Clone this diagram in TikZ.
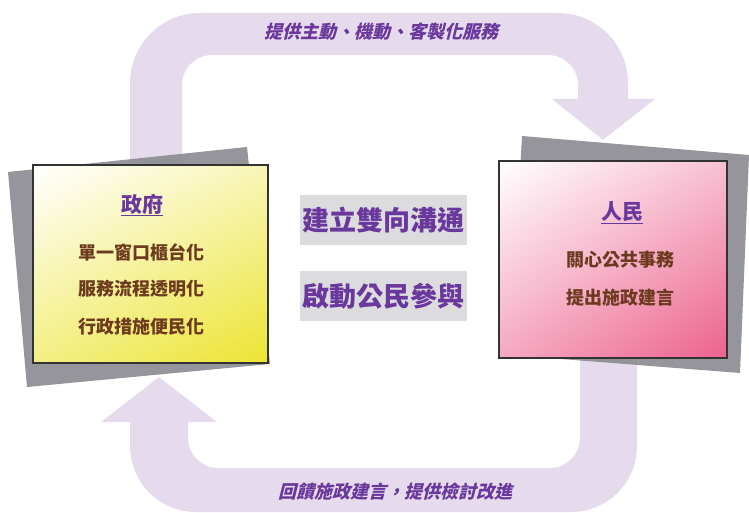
\documentclass[tikz,border=0pt]{standalone}
\usepackage{fontspec}
\usetikzlibrary{shadings}
\newfontfamily\tc{Noto Sans CJK TC}
\newfontfamily\tcslant{Noto Sans CJK TC}[FakeSlant=0.25]

\definecolor{band}{RGB}{230,219,236}
\definecolor{shadowgray}{RGB}{140,140,146}
\definecolor{titlepurple}{RGB}{106,56,156}
\definecolor{textbrown}{RGB}{108,58,30}
\definecolor{midgray}{RGB}{220,220,223}
\definecolor{govyellow}{RGB}{236,228,50}
\definecolor{pplpink}{RGB}{236,98,142}

\begin{document}
\begin{tikzpicture}[x=1pt, y=-1pt,
    card/.style={rectangle, draw=black!80, line width=1.2pt, shade},
    cardtitle/.style={text=titlepurple, font=\tc\bfseries\fontsize{21}{21}\selectfont},
    carditem/.style={text=textbrown, font=\tc\bfseries\fontsize{18}{18}\selectfont},
    midbox/.style={fill=midgray, text=titlepurple, inner sep=0pt,
        minimum width=167pt, minimum height=50pt,
        font=\tc\bfseries\fontsize{27}{27}\selectfont},
    arrowtext/.style={text=titlepurple, font=\tcslant\bfseries\fontsize{18}{18}\selectfont}]

\useasboundingbox (0,0) rectangle (749,513);

% the two big arrows
\fill[band] (130,250) [rounded corners=70pt] -- (130,13) -- (628,13)
    [sharp corners] -- (628,99) -- (655,99) -- (603,140) -- (552,99) -- (578,99)
    [rounded corners=30pt] -- (578,55) -- (182,55)
    [sharp corners] -- (182,250) -- cycle;

\fill[band] (580,300) [rounded corners=30pt] -- (580,468) -- (188,468)
    [sharp corners] -- (188,422) -- (217,422) -- (159,377) -- (101,422) -- (130,422)
    [rounded corners=66pt] -- (130,512) -- (637,512)
    [sharp corners] -- (637,300) -- cycle;

\node[arrowtext] (toptext) at (381,32) {提供主動、機動、客製化服務};
\node[arrowtext] (bottomtext) at (395,492) {回饋施政建言，提供檢討改進};

% shadows
\fill[shadowgray, opacity=.92] (8,172) -- (247,147) -- (270,364) -- (27,387) -- cycle;
\fill[shadowgray, opacity=.92] (522,136) -- (749,155) -- (740,373) -- (510,355) -- cycle;

% cards
\node[card, minimum width=235pt, minimum height=198pt,
    upper left=white, upper right=govyellow!35!white,
    lower left=govyellow!60!white, lower right=govyellow] (gov) at (150.5,264) {};
\node[card, minimum width=228pt, minimum height=197pt,
    upper left=white, upper right=pplpink!40!white,
    lower left=pplpink!55!white, lower right=pplpink] (ppl) at (613,259.5) {};

\node[cardtitle] (govtitle) at (142,205) {\underline{政府}};
\node[carditem] (gov1) at (141,252) {單一窗口櫃台化};
\node[carditem] (gov2) at (141,289) {服務流程透明化};
\node[carditem] (gov3) at (141,327) {行政措施便民化};

\node[cardtitle] (ppltitle) at (622,213) {\underline{人民}};
\node[carditem] (ppl1) at (620,260) {關心公共事務};
\node[carditem] (ppl2) at (620,298) {提出施政建言};

% middle
\node[midbox] (twoway) at (383.5,220) {建立雙向溝通};
\node[midbox] (join) at (383.5,296) {啟動公民參與};

\end{tikzpicture}
\end{document}
